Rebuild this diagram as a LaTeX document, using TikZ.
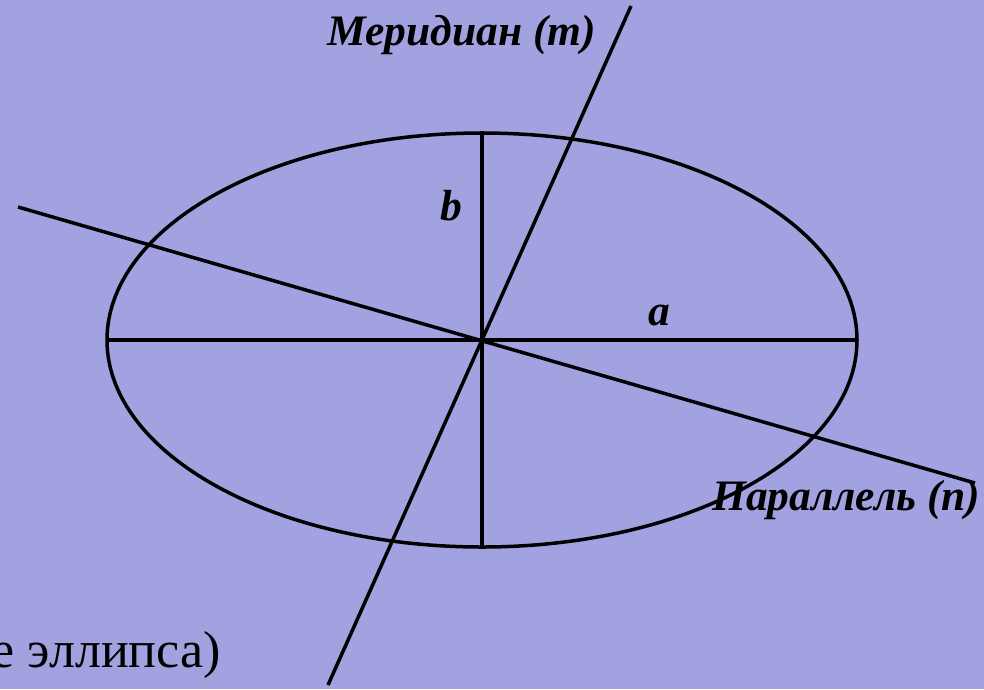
\documentclass[tikz,border=0pt]{standalone}
\usepackage{fontspec}
\setmainfont{Liberation Serif}
\usepackage{tikz}
\usetikzlibrary{positioning, calc}
\definecolor{cBack}{RGB}{162,162,224}
\tikzset{
	axisline/.style ={line width=3.5pt, black},
	lbl/.style      ={font=\fontsize{43.5}{50}\selectfont\bfseries\itshape, inner sep=0pt},
	note/.style     ={font=\fontsize{52}{58}\selectfont, inner sep=0pt},
}

\begin{document}
\begin{tikzpicture}[x=1pt, y=-1pt]
	\fill[cBack] (0,0) rectangle (984,689);
	\useasboundingbox (0,0) rectangle (984,689);
	\coordinate (O) at (482,340);
	% ellipse and its axes
	\draw[axisline] (O) ellipse [x radius=375, y radius=207];
	\coordinate (aw) at (107,340); \coordinate (ae) at (857,340);
	\coordinate (bn) at (482,131); \coordinate (bs) at (482,547);
	\draw[axisline] (aw) -- (ae);
	\draw[axisline] (bn) -- (bs);
	% meridian and parallel
	\coordinate (mt) at (631,6);  \coordinate (mb) at (328,685);
	\coordinate (pw) at (18,207); \coordinate (pe) at (975,483);
	\draw[axisline] (mt) -- (mb);
	\draw[axisline] (pw) -- (pe);
	\node[lbl, anchor=base west] (mer) at (327,45) {Меридиан (m)};
	\node[lbl, anchor=base west] (par) at (712,510) {Параллель (n)};
	\node[lbl, anchor=base] (lb) at (451,220) {b};
	\node[lbl, anchor=base] (la) at (659,325) {a};
	\node[note, anchor=base east] (ell) at (221,667) {е эллипса)};
\end{tikzpicture}
\end{document}
